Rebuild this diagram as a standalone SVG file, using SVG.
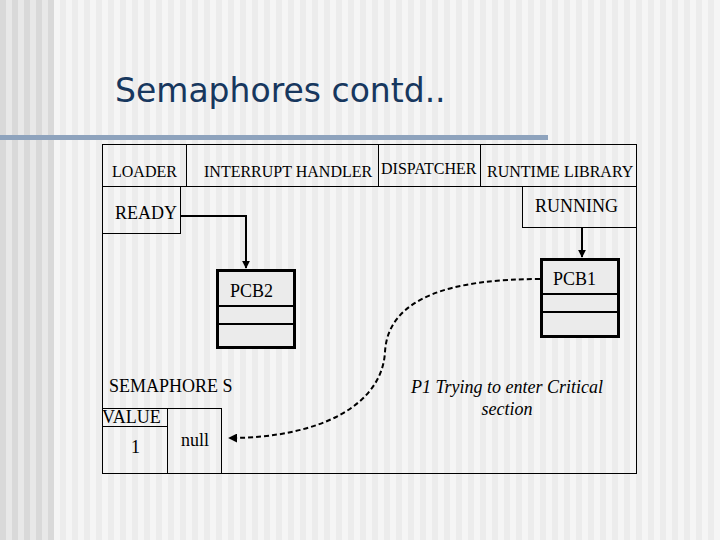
<svg xmlns="http://www.w3.org/2000/svg" width="720" height="540" viewBox="0 0 720 540">
<defs>
<pattern id="bgDark" x="0" y="0" width="12" height="12" patternUnits="userSpaceOnUse">
<rect x="0" y="0" width="6" height="12" fill="#d9d9d9"/>
<rect x="6" y="0" width="6" height="12" fill="#e8e8e8"/>
</pattern>
<pattern id="bgLight" x="54" y="0" width="12" height="12" patternUnits="userSpaceOnUse">
<rect x="0" y="0" width="6" height="12" fill="#f5f5f5"/>
<rect x="6" y="0" width="6" height="12" fill="#ececec"/>
</pattern>
<marker id="arrow" viewBox="0 0 10 10" refX="9" refY="5" markerWidth="4" markerHeight="4" orient="auto-start-reverse" markerUnits="strokeWidth">
<path d="M0,0 L10,5 L0,10 z" fill="#000"/>
</marker>
<marker id="arrowOpen" viewBox="0 0 10 10" refX="9" refY="5" markerWidth="4.5" markerHeight="4.5" orient="auto-start-reverse" markerUnits="strokeWidth">
<path d="M0,0 L10,5 L0,10 z" fill="#000"/>
</marker>
</defs>
<style>
.t{font-family:"Liberation Serif","Times New Roman",serif;fill:#000;}
.cell{fill:none;stroke:#000;stroke-width:1;}
.pcb{fill:#ebebeb;stroke:#000;stroke-width:3;}
.div{stroke:#000;stroke-width:2;}
.conn{fill:none;stroke:#000;stroke-width:2;}
</style>
<rect x="0" y="0" width="720" height="540" fill="url(#bgLight)"/>
<rect x="0" y="0" width="54" height="540" fill="url(#bgDark)"/>
<text x="115" y="102" font-family="'DejaVu Sans',Verdana,sans-serif" font-size="33" fill="#17375e">Semaphores contd..</text>
<rect x="0" y="135" width="548" height="5" fill="#8ea3bd"/>

<g id="frame">
<rect class="cell" x="102.5" y="144.5" width="534" height="329"/>
</g>
<g id="loader">
<rect class="cell" x="102.5" y="144.5" width="84" height="42"/>
<text class="t" x="112" y="177" font-size="16">LOADER</text>
</g>
<g id="interrupt-handler">
<rect class="cell" x="186.5" y="144.5" width="192" height="42"/>
<text class="t" x="204" y="177" font-size="16">INTERRUPT HANDLER</text>
</g>
<g id="dispatcher">
<rect class="cell" x="378.5" y="144.5" width="102" height="42"/>
<text class="t" x="381" y="174" font-size="16">DISPATCHER</text>
</g>
<g id="runtime-library">
<rect class="cell" x="480.5" y="144.5" width="156" height="42"/>
<text class="t" x="487" y="177" font-size="16">RUNTIME LIBRARY</text>
</g>
<g id="ready">
<rect class="cell" x="102.5" y="186.5" width="78" height="47"/>
<text class="t" x="115" y="219" font-size="18">READY</text>
</g>
<g id="running">
<rect class="cell" x="522.5" y="186.5" width="114" height="41"/>
<text class="t" x="535" y="212" font-size="18">RUNNING</text>
</g>
<g id="pcb2">
<rect class="pcb" x="217.5" y="270.5" width="77" height="77"/>
<line class="div" x1="217" y1="306" x2="295" y2="306"/>
<line class="div" x1="217" y1="324" x2="295" y2="324"/>
<text class="t" x="230" y="297" font-size="18">PCB2</text>
</g>
<g id="pcb1">
<rect class="pcb" x="541.5" y="259.5" width="77" height="77"/>
<line class="div" x1="541" y1="294" x2="619" y2="294"/>
<line class="div" x1="541" y1="312" x2="619" y2="312"/>
<text class="t" x="553" y="285" font-size="18">PCB1</text>
</g>
<g id="semaphore">
<text class="t" x="109" y="392" font-size="18">SEMAPHORE S</text>
<rect class="cell" x="102.5" y="408.5" width="65" height="18"/>
<rect class="cell" x="102.5" y="426.5" width="65" height="47"/>
<rect class="cell" x="167.5" y="408.5" width="54" height="65"/>
<text class="t" x="102" y="423" font-size="18">VALUE</text>
<text class="t" x="131" y="453" font-size="18">1</text>
<text class="t" x="181" y="446" font-size="18">null</text>
</g>
<g id="note">
<text class="t" x="507" y="393" font-size="18" font-style="italic" text-anchor="middle" fill="#333">P1 Trying to enter Critical</text>
<text class="t" x="507" y="415" font-size="18" font-style="italic" text-anchor="middle" fill="#333">section</text>
</g>
<g id="connectors">
<path class="conn" d="M180,216 H246 V268" marker-end="url(#arrow)"/>
<path class="conn" d="M582,228 V257" marker-end="url(#arrow)"/>
<path class="conn" d="M540,279 C455,279 388,296 385,352 C382,405 320,438 229,438" stroke-dasharray="5,3" marker-end="url(#arrowOpen)"/>
</g>
</svg>
